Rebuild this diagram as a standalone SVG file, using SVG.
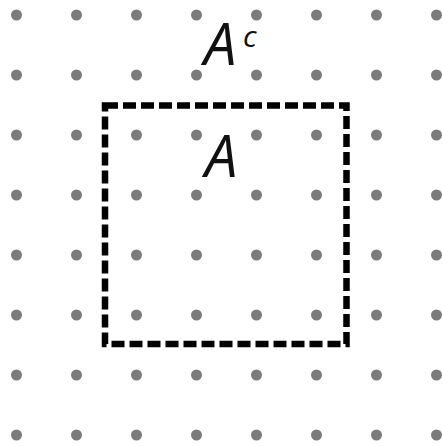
<svg xmlns="http://www.w3.org/2000/svg" width="442" height="446" viewBox="0 0 442 446">
<defs>
<style>
.dot{fill:#7b7b7b}
.lbl{font-family:"Open Sans","Noto Sans",sans-serif;font-style:italic;fill:#111}
.set{fill:none;stroke:#000;stroke-width:6.5;stroke-dasharray:13 5}
</style>
<pattern id="grid" x="0" y="0" width="60" height="60" patternUnits="userSpaceOnUse">
<circle cx="16.5" cy="15" r="5.5" class="dot"/>
</pattern>
</defs>
<rect width="442" height="446" fill="#ffffff"/>
<g id="dots"><rect width="442" height="446" fill="url(#grid)"/></g>
<g id="connectors"></g>
<g id="setA">
<rect class="set" x="105" y="105.5" width="241.5" height="238.5"/>
</g>
<g id="labelAc">
<text class="lbl" x="204" y="65" font-size="58">A</text>
<text class="lbl" x="243" y="47" font-size="30">c</text>
</g>
<g id="labelA">
<text class="lbl" x="205" y="177" font-size="58">A</text>
</g>
</svg>
